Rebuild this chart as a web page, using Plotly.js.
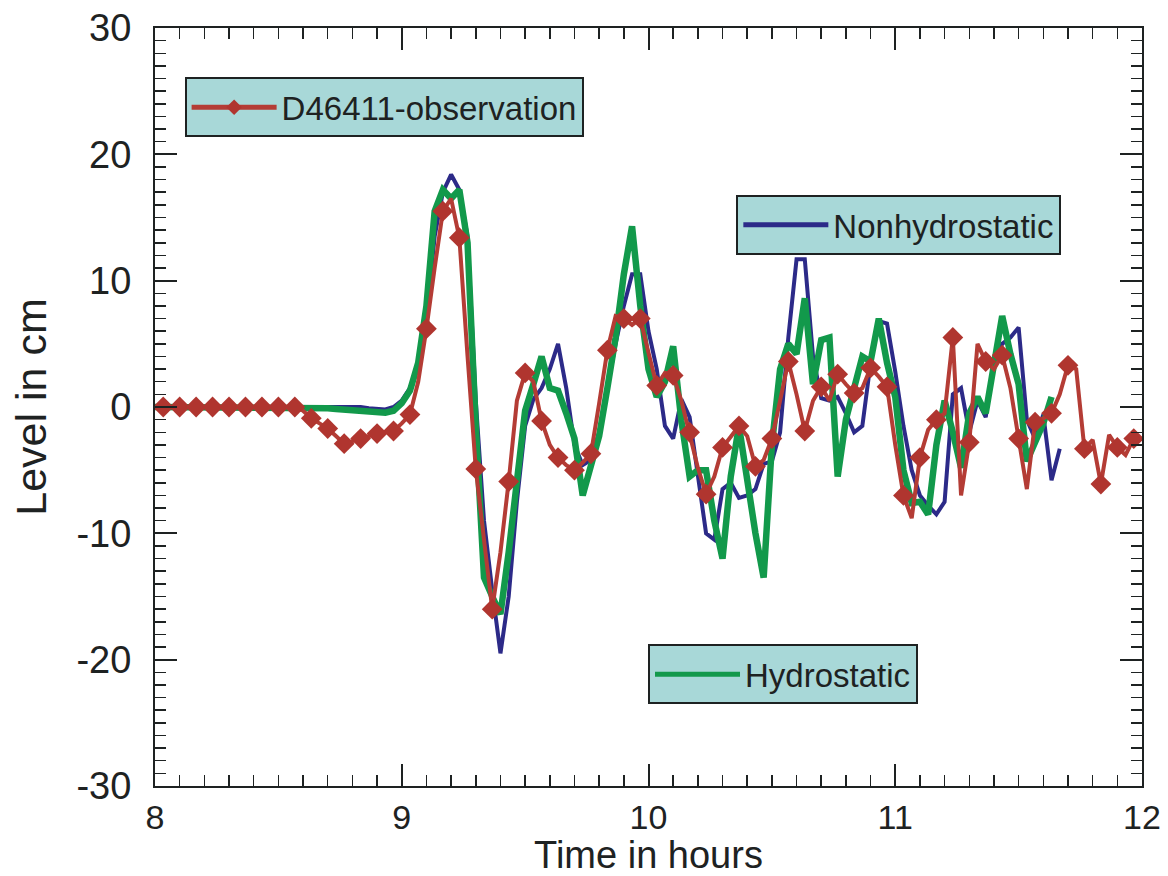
<!DOCTYPE html>
<html><head><meta charset="utf-8">
<script src="https://cdn.plot.ly/plotly-3.0.1.min.js"></script>
<style>html,body{margin:0;padding:0;background:#fff}#chart{width:1168px;height:876px}</style>
</head><body><div id="chart"></div>
<script>
// Sea level at DART buoy 46411, sampled every 2 minutes from 8:00 (hours)
const startHour = 8;
const sampleStepHours = 2 / 60;

// Observation (D46411), k = 0..120
const obsLevel = [
  0,0,0,0,0,0,0,0,0,0, 0,0,0,0,0,0,0,0,-0.3,-0.9,
  -1.3,-1.7,-2.3,-2.9,-2.7,-2.5,-2.3,-2.1,-2.0,-1.9,
  -1.3,-0.6,2.0,6.2,11.0,15.5,16.5,13.4,4.0,-4.9,
  -10.5,-16.0,-11.5,-5.9,0.5,2.7,2.0,-1.1,-3.0,-4.0,
  -4.6,-5.0,-4.4,-3.7,0.3,4.5,7.2,7.0,6.5,7.0,
  4.3,1.7,2.7,2.5,0.5,-2.0,-4.8,-6.9,-5.5,-3.2,
  -2.3,-1.5,-2.3,-4.7,-4.2,-2.5,0.5,3.6,1.0,-1.9,
  0.5,1.6,0.5,2.6,1.8,1.1,1.5,3.1,2.4,1.6,
  -3.0,-7.0,-8.8,-4.0,-1.8,-1.0,-0.5,5.5,-7.0,-2.8,
  5.0,3.6,3.0,4.1,1.5,-2.5,-6.5,-1.2,-0.9,-0.5,
  1.0,3.3,3.0,-3.3,-2.6,-6.1,-2.2,-3.2,-3.8,-2.5,
  -2.5
];

// Nonhydrostatic model, k = 0..110
const nonhydroLevel = [
  0,0,0,0,0,0,0,0,0,0, 0,0,0,0,0,0,0,0,0,0,
  0,0,0,0,0,0,-0.1,-0.15,-0.2,0.0,
  0.5,1.5,3.5,6.8,13.5,17.0,18.4,17.2,13.5,0.5,
  -9.0,-14.5,-19.5,-15.0,-7.5,-1.5,0.6,1.5,3.0,5.0,
  1.5,-3.0,-4.6,-4.2,-2.0,1.5,5.0,8.0,10.5,10.5,
  6.0,3.0,-1.5,-2.5,0.6,-0.8,-5.5,-10.0,-10.5,-6.5,
  -6.0,-7.2,-7.0,-6.5,-4.5,-4.3,-2.0,5.5,11.7,11.7,
  4.0,0.7,0.5,0.8,-0.5,-2.0,-1.5,3.5,6.8,6.6,
  2.8,-1.5,-5.0,-7.0,-7.8,-8.5,-7.5,1.0,1.5,-2.0,
  0.5,-0.8,3.5,5.0,5.5,6.3,-1.0,-2.5,-0.6,-5.8,
  -3.3
];

// Hydrostatic model, k = 0..109
const hydroLevel = [
  0,0,0,0,0,0,0,0,0,0, 0,0,0,0,0,0,0,0,0,0,
  -0.05,-0.1,-0.15,-0.2,-0.3,-0.35,-0.45,-0.5,-0.45,-0.3,
  0.3,1.3,3.5,8.0,15.5,17.2,16.5,17.2,13.0,-1.5,
  -13.5,-15.0,-16.4,-11.5,-5.5,-0.3,1.8,4.0,1.5,1.3,
  -0.5,-2.5,-7.0,-4.7,-2.3,1.5,5.5,10.5,14.3,8.0,
  3.0,0.8,2.0,4.8,-1.1,-5.5,-5.0,-5.0,-9.0,-12.0,
  -5.5,-1.5,-6.0,-10.0,-13.5,-3.0,3.0,5.0,4.2,8.6,
  1.8,5.3,5.5,-5.5,-1.0,1.5,4.0,3.6,7.0,3.5,
  0.8,-5.0,-7.6,-7.5,-8.5,-3.0,0.5,-2.0,-4.8,-0.5,
  0.8,-0.5,3.0,7.2,4.2,1.8,-4.3,-2.8,-1.3,0.8
];

const xTickVals = [8, 9, 10, 11, 12];
const yTickVals = [-30, -20, -10, 0, 10, 20, 30];

const timesFor = arr => arr.map((_, i) => startHour + i * sampleStepHours);
// observation diamonds are shown on every second sample (4-minute spacing)
const obsMarkerSize = obsLevel.map((_, i) => (i % 2 === 1 ? 16 : 0));

const FONT = 'Liberation Sans, Arial, Helvetica, sans-serif';
const INK = '#1e2222';

const traces = [
  {
    x: timesFor(nonhydroLevel), y: nonhydroLevel, type: 'scatter', mode: 'lines',
    name: 'Nonhydrostatic', legend: 'legend2',
    line: {color: '#2c2a88', width: 4}
  },
  {
    x: timesFor(hydroLevel), y: hydroLevel, type: 'scatter', mode: 'lines',
    name: 'Hydrostatic', legend: 'legend3',
    line: {color: '#12994b', width: 6.5}
  },
  {
    x: timesFor(obsLevel), y: obsLevel, type: 'scatter', mode: 'lines+markers',
    name: 'D46411-observation', legend: 'legend',
    line: {color: '#b43c35', width: 4},
    marker: {symbol: 'diamond', size: obsMarkerSize, color: '#b0352f', opacity: 1, line: {width: 0}}
  }
];

const legendBase = {
  bgcolor: '#a8d8d8', bordercolor: INK, borderwidth: 2,
  font: {family: FONT, size: 33, color: INK},
  xanchor: 'left', yanchor: 'top', itemsizing: 'constant', itemwidth: 85,
  tracegroupgap: 0
};

const axisBase = {
  showgrid: false, zeroline: false, showline: true, linecolor: INK, linewidth: 2,
  mirror: 'ticks', ticks: 'inside', tickcolor: INK, tickwidth: 2, ticklen: 22
};

const layout = {
  width: 1168, height: 876,
  margin: {l: 155, r: 26, t: 28, b: 90},
  paper_bgcolor: '#ffffff', plot_bgcolor: '#ffffff',
  font: {family: FONT, color: INK},
  xaxis: Object.assign({}, axisBase, {
    range: [8, 12], tickvals: xTickVals, ticktext: xTickVals.map(String),
    tickfont: {family: FONT, size: 34, color: INK},
    minor: {dtick: 0.1, ticks: 'inside', ticklen: 11, tickwidth: 1.5, tickcolor: INK},
    title: {text: 'Time in hours', font: {family: FONT, size: 38, color: INK}, standoff: 3}
  }),
  yaxis: Object.assign({}, axisBase, {
    range: [-30, 30], tickvals: yTickVals, ticktext: yTickVals.map(String),
    tickfont: {family: FONT, size: 38, color: INK}, ticklabelstandoff: 14,
    minor: {dtick: 1, ticks: 'inside', ticklen: 11, tickwidth: 1.5, tickcolor: INK},
    title: {text: 'Level in cm', font: {family: FONT, size: 43, color: INK}, standoff: 16}
  }),
  showlegend: true,
  legend: Object.assign({}, legendBase, {x: 0.030, y: 0.935}),
  legend2: Object.assign({}, legendBase, {x: 0.589, y: 0.780}),
  legend3: Object.assign({}, legendBase, {x: 0.4995, y: 0.187})
};

Plotly.newPlot('chart', traces, layout, {displayModeBar: false, staticPlot: true});
</script>
</body></html>
